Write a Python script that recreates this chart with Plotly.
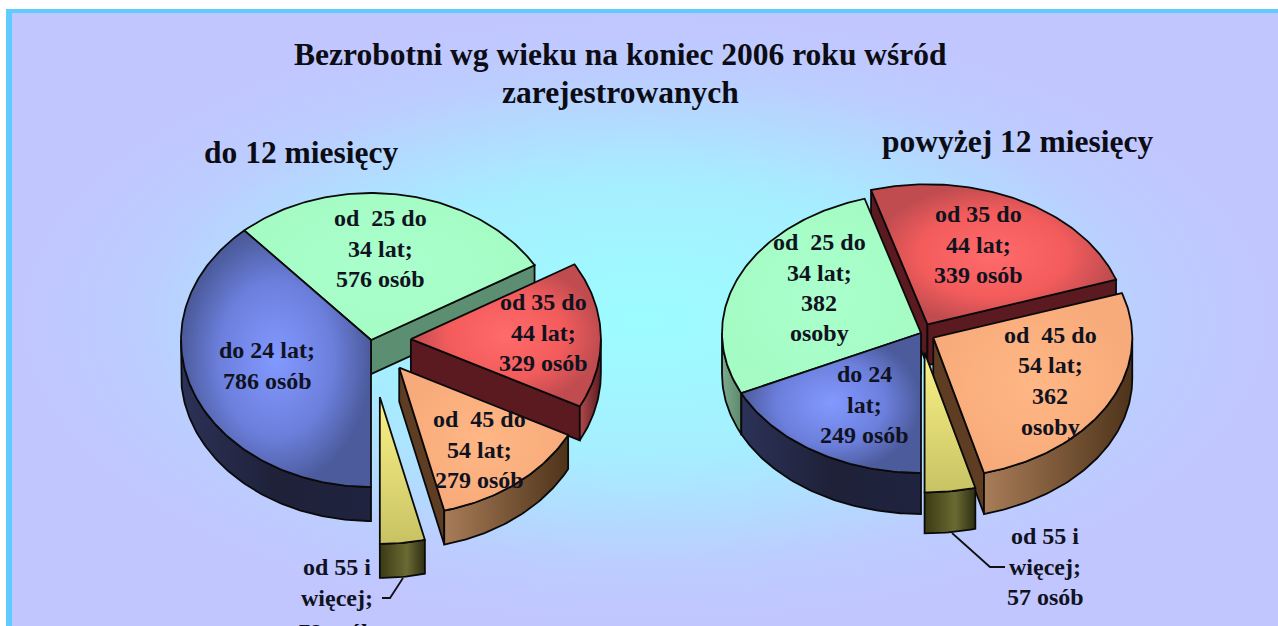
import math
import plotly.graph_objects as go

# ---------- data ----------
categories = ["do 24 lat", "od 25 do 34 lat", "od 35 do 44 lat", "od 45 do 54 lat", "od 55 i więcej"]
values_short = [786, 576, 329, 279, 78]
values_long = [249, 382, 339, 362, 57]

labels_short = [
    ["do 24 lat;", "786 osób"],
    ["od  25 do", "34 lat;", "576 osób"],
    ["od 35 do", "44 lat;", "329 osób"],
    ["od  45 do", "54 lat;", "279 osób"],
    ["od 55 i", "więcej;", "78 osób"],
]
labels_long = [
    ["do 24", "lat;", "249 osób"],
    ["od  25 do", "34 lat;", "382", "osoby"],
    ["od 35 do", "44 lat;", "339 osób"],
    ["od  45 do", "54 lat;", "362", "osoby"],
    ["od 55 i", "więcej;", "57 osób"],
]
title_lines = ["Bezrobotni wg wieku na koniec 2006 roku wśród", "zarejestrowanych"]
subtitle_short = "do 12 miesięcy"
subtitle_long = "powyżej 12 miesięcy"

# ---------- styling / layout ----------
W, H = 1278, 626
FONT = "Liberation Serif"
LINE_STEP = 30.5

top_scale = [
    [[0, "#8299ff"], [0.6, "#6c7fdc"], [1, "#4c5b9c"]],
    [[0, "#aaffcc"], [1, "#a4fcc4"]],
    [[0, "#ff6a6a"], [0.6, "#f45c5c"], [1, "#c04c50"]],
    [[0, "#ffb785"], [1, "#f8ab7a"]],
    None,
]
yellow_top = [[0, "#c8c264"], [1, "#fbf386"]]
arc_scale = [
    [[0, "#2c3258"], [0.5, "#1e2138"], [1, "#20233f"]],
    [[0, "#7da98c"], [1, "#5d8a6e"]],
    [[0, "#b04a4c"], [1, "#5a1c22"]],
    [[0, "#a87c58"], [1, "#4e3319"]],
    [[0, "#3a3a14"], [0.6, "#6a6a34"], [1, "#2e2e12"]],
]
cut_color = ["#262a4c", "#5c8e72", "#5a1a20", "#5e3d22", "#3a3a14"]

pie_short = dict(cx=371, cy=340, rx=190, ry=147, depth=34, pull=[0, 0, 0.21, 0.24, 0.39])
pie_long = dict(cx=921, cy=333, rx=199, ry=140, depth=41, pull=[0, 0, 0.07, 0.07, 0.14])

label_pos_short = [(267, 350), (380, 218), (543, 302), (479, 419), (337, 567)]
label_pos_long = [(864, 374), (819, 242), (978, 214), (1050, 335), (1045, 536)]

fig = go.Figure()


def poly(xs, ys, **kw):
    fig.add_trace(go.Scatter(x=xs, y=ys, mode="lines", fill="toself", hoverinfo="skip",
                             showlegend=False, **kw))


def gradient(kind, scale):
    return dict(type=kind, colorscale=scale)


# background: frame and radial wash
poly([6, W, W, 6, 6], [9, 9, H, H, 9], fillcolor="#5fcbff", line=dict(width=0))
poly([12, W, W, 12, 12], [13, 13, H, H, 13], line=dict(width=0),
     fillgradient=gradient("radial", [[0, "#9cfdff"], [0.45, "#a6eeff"], [0.8, "#bccdff"], [1, "#c2c6ff"]]))


def arc_pts(p, a0, a1, ox, oy, dz=0):
    n = max(2, int(abs(a1 - a0)) + 1)
    xs, ys = [], []
    for i in range(n + 1):
        a = math.radians(a0 + (a1 - a0) * i / n)
        xs.append(p["cx"] + ox + p["rx"] * math.sin(a))
        ys.append(p["cy"] + oy - p["ry"] * math.cos(a) + dz)
    return xs, ys


def draw_pie(values, p):
    total = sum(values)
    a = 180.0
    wedges = []
    for i, v in enumerate(values):
        sweep = 360.0 * v / total
        wedges.append((i, a, a + sweep))
        a += sweep
    wedges.sort(key=lambda w: -math.cos(math.radians((w[1] + w[2]) / 2)))
    for i, a0, a1 in wedges:
        mid = math.radians((a0 + a1) / 2)
        ox = p["rx"] * p["pull"][i] * math.sin(mid)
        oy = -p["ry"] * p["pull"][i] * math.cos(mid)
        cx, cy = p["cx"] + ox, p["cy"] + oy
        d = p["depth"]
        outline = dict(color="#0a0a0a", width=1.8)
        # radial cut walls facing the viewer
        for ang, visible in ((a0, -math.sin(math.radians(a0)) > 1e-6), (a1, math.sin(math.radians(a1)) > 1e-6)):
            if visible:
                ex = cx + p["rx"] * math.sin(math.radians(ang))
                ey = cy - p["ry"] * math.cos(math.radians(ang))
                poly([cx, ex, ex, cx, cx], [cy, ey, ey + d, cy + d, cy], fillcolor=cut_color[i], line=outline)
        # outer wall, the part of the rim on the near side
        for lo, hi in ((a0, a1), (a0 - 360, a1 - 360)):
            s, e = max(lo, 90), min(hi, 270)
            if e > s:
                tx, ty = arc_pts(p, s, e, ox, oy)
                bx, by = arc_pts(p, e, s, ox, oy, d)
                poly(tx + bx + tx[:1], ty + by + ty[:1], line=outline,
                     fillgradient=gradient("horizontal", arc_scale[i]))
        # top face
        tx, ty = arc_pts(p, a0, a1, ox, oy)
        xs, ys = [cx] + tx + [cx], [cy] + ty + [cy]
        if top_scale[i] is None:
            poly(xs, ys, line=outline, fillgradient=gradient("vertical", yellow_top))
        else:
            poly(xs, ys, line=outline, fillgradient=gradient("radial", top_scale[i]))


draw_pie(values_short, pie_short)
draw_pie(values_long, pie_long)

# leader lines
for lx, ly in (([403, 390, 382], [578, 598, 598]), ([952, 990, 1005], [533, 567, 567])):
    fig.add_trace(go.Scatter(x=lx, y=ly, mode="lines", hoverinfo="skip", showlegend=False,
                             line=dict(color="#111111", width=1.8)))


def text(s, x, y, size, color="#10131f"):
    fig.add_annotation(x=x / W, y=1 - y / H, xref="paper", yref="paper", text="<b>" + s + "</b>",
                       showarrow=False, xanchor="center", yanchor="middle",
                       font=dict(family=FONT, size=size, color=color))


# the last line of the lower-left label runs off the bottom edge of the page, as in the reference
edge_shift = {"78 osób": 4}
for labels, pos in ((labels_short, label_pos_short), (labels_long, label_pos_long)):
    for lines, (x, y) in zip(labels, pos):
        for k, line in enumerate(lines):
            text(line, x, y + k * LINE_STEP + edge_shift.get(line, 0), 24)

text(title_lines[0], 620, 55, 31.5, "#0c0c14")
text(title_lines[1], 620, 92, 31.5, "#0c0c14")
text(subtitle_short, 301, 152, 31.5, "#0c0c14")
text(subtitle_long, 1017, 142, 31.5, "#0c0c14")

fig.update_layout(
    width=W, height=H, margin=dict(l=0, r=0, t=0, b=0), paper_bgcolor="white", plot_bgcolor="white",
    xaxis=dict(range=[0, W], visible=False, fixedrange=True),
    yaxis=dict(range=[H, 0], visible=False, fixedrange=True),
    showlegend=False,
)
fig.write_html("out.html", config={"displayModeBar": False},
               post_script="document.body.style.margin='0';document.body.style.overflow='hidden';")
